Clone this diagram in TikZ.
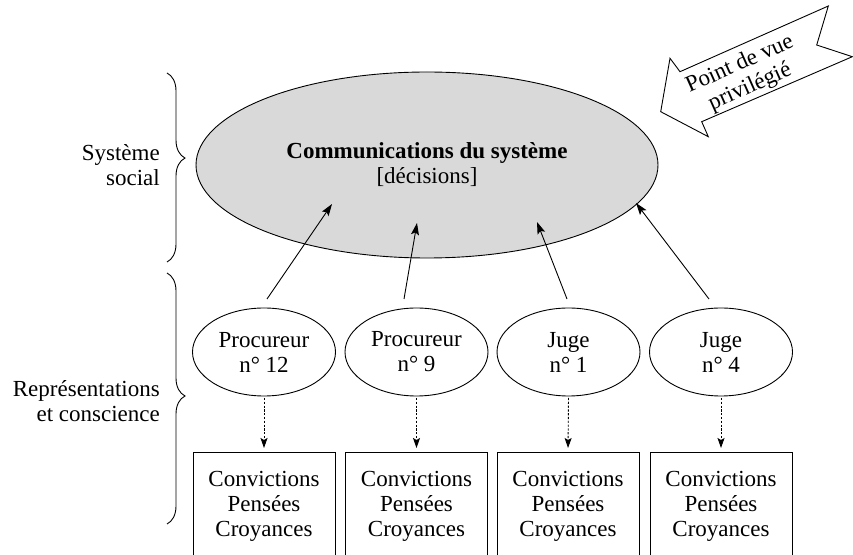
\documentclass[tikz,border=0pt]{standalone}
\usepackage{fontspec}
\setmainfont{Liberation Serif}
\usetikzlibrary{arrows.meta,decorations.pathreplacing,shapes.geometric}
\begin{document}
\begin{tikzpicture}[x=1pt,y=1pt,
  every node/.style={font=\fontsize{23}{25}\selectfont, align=center},
  bigell/.style={ellipse, draw, line width=0.9pt, fill=black!15, minimum width=462, minimum height=186, inner sep=0},
  actor/.style={ellipse, draw, line width=0.9pt, minimum width=143, minimum height=88, inner sep=0},
  mindbox/.style={rectangle, draw, line width=0.9pt, minimum width=142, minimum height=107, anchor=north, inner sep=0},
  influence/.style={-{Stealth[length=12pt,width=8pt,inset=2.5pt]}, line width=0.9pt},
  psych/.style={dash pattern=on 2.2pt off 1.6pt, -{Stealth[length=10pt,width=7pt,inset=2pt]}, line width=0.9pt, shorten <=1.5pt, shorten >=4pt},
  bracestyle/.style={decorate, decoration={brace, amplitude=18pt, aspect=#1}, line width=0.9pt},
  callout/.style={draw, line width=0.9pt, fill=white, line join=miter}
]
\useasboundingbox (0,0) rectangle (853,554);

% system
\node[bigell] (sys) at (427,389) {\textbf{Communications du système}\\{[décisions]}};

% actors
\node[actor] (p12) at (264,202) {Procureur\\n° 12};
\node[actor] (p9)  at (416.5,202) {Procureur\\n° 9};
\node[actor] (j1)  at (568.5,202) {Juge\\n° 1};
\node[actor] (j4)  at (721,202) {Juge\\n° 4};

% minds
\node[mindbox] (b12) at (264,102) {Convictions\\Pensées\\Croyances};
\node[mindbox] (b9)  at (416.5,102) {Convictions\\Pensées\\Croyances};
\node[mindbox] (b1)  at (568,102) {Convictions\\Pensées\\Croyances};
\node[mindbox] (b4)  at (721,102) {Convictions\\Pensées\\Croyances};

% influence arrows
\coordinate (s1) at (267,255); \coordinate (t1) at (332,350);
\coordinate (s2) at (404,255); \coordinate (t2) at (417,331);
\coordinate (s3) at (567,255); \coordinate (t3) at (537,332);
\coordinate (s4) at (709,255); \coordinate (t4) at (636,351);
\draw[influence] (s1) -- (t1);
\draw[influence] (s2) -- (t2);
\draw[influence] (s3) -- (t3);
\draw[influence] (s4) -- (t4);

% psychic arrows
\draw[psych] (p12.south) -- (b12.north);
\draw[psych] (p9.south) -- (b9.north);
\draw[psych] (j1.south) -- (b1.north);
\draw[psych] (j4.south) -- (b4.north);

% braces
\coordinate (ba1) at (167,481); \coordinate (bb1) at (167,292);
\coordinate (ba2) at (167,281); \coordinate (bb2) at (167,30);
\draw[bracestyle=0.45] (ba1) -- (bb1);
\draw[bracestyle=0.49] (ba2) -- (bb2);
\node[anchor=east, align=right, inner sep=0] (lsys) at (160,389) {Système\\social};
\node[anchor=east, align=right, inner sep=0] (lrep) at (160,152.5) {Représentations\\et conscience};

% callout arrow
\draw[callout] (660.7,442.3) -- (670,495.7) -- (680,482.3) -- (828.3,548) -- (816.7,509)
  -- (852.3,497.3) -- (701.7,432.3) -- (708.3,417.3) -- cycle;
\node[rotate=24, inner sep=0] (pv) at (745,478) {Point de vue\\privilégié};
\end{tikzpicture}
\end{document}
